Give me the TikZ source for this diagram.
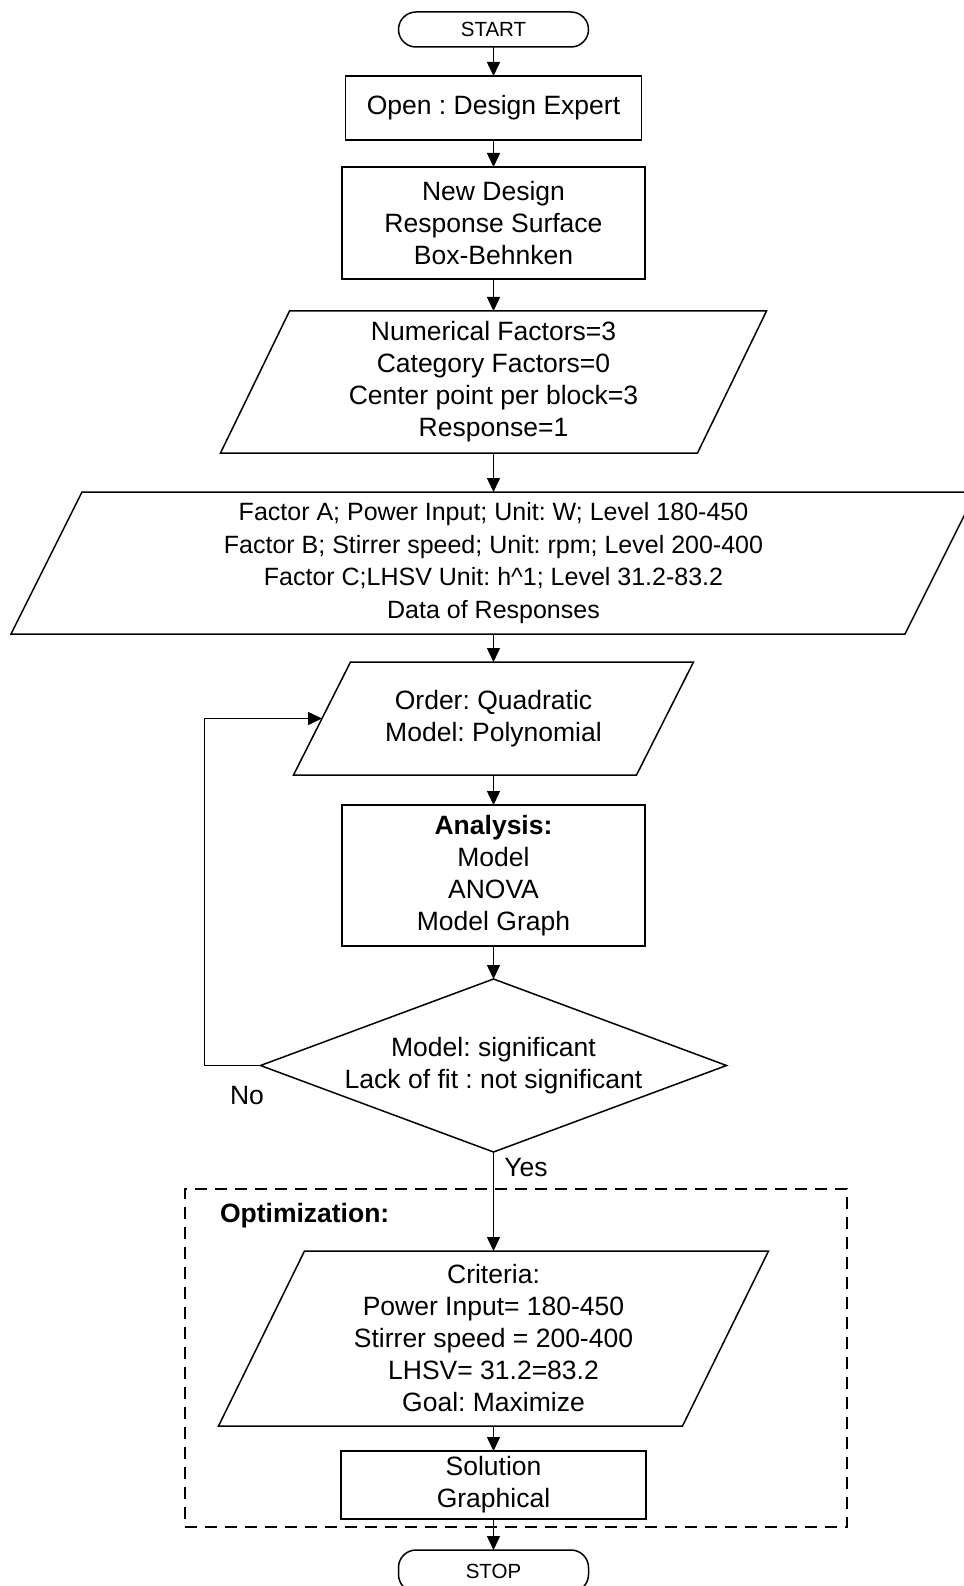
\documentclass[tikz,border=0pt]{standalone}
\usepackage{fontspec}
\setmainfont{Liberation Sans}
\usetikzlibrary{shapes.geometric,arrows.meta,calc}
\frenchspacing
\begin{document}
\begin{tikzpicture}[x=1pt,y=-1pt,
  line width=1.5pt,
  every node/.style={inner sep=0pt,outer sep=0pt,align=center,
    font=\fontsize{26.5}{32}\selectfont},
  term/.style={draw,rectangle,rounded corners=17.5pt,minimum width=190pt,
    minimum height=35pt,font=\fontsize{20.5}{24}\selectfont},
  procbox/.style={draw,rectangle},
  iobox/.style={rectangle},
  decision/.style={draw,diamond,minimum width=466pt,minimum height=173pt},
  optframe/.style={draw,rectangle,dash pattern=on 12pt off 8pt,
    minimum width=662pt,minimum height=338pt},
  flow/.style={-{Triangle[length=14pt,width=13pt]}},
]
\useasboundingbox[fill=white] (0,0) rectangle (963,1586);

% main column
\node[term] (start) at (493.5,29.5) {START};
\node[procbox,minimum width=296pt,minimum height=64pt] (open) at (493.5,108)
  {Open : Design Expert};
\node[procbox,minimum width=303pt,minimum height=112pt] (new) at (493.5,223)
  {New Design\\Response Surface\\Box-Behnken};
\node[iobox,minimum width=546pt,minimum height=142pt] (num) at (493.5,382)
  {Numerical Factors=3\\Category Factors=0\\Center point per block=3\\Response=1};
\node[iobox,minimum width=965pt,minimum height=142pt,
  font=\fontsize{25}{32.4}\selectfont] (fac) at (493.5,563)
  {Factor A; Power Input; Unit: W; Level 180-450\\
   Factor B; Stirrer speed; Unit: rpm; Level 200-400\\
   Factor C;LHSV Unit: h\^{}1; Level 31.2-83.2\\
   Data of Responses};
\node[iobox,minimum width=400pt,minimum height=113pt] (ord) at (493.5,718.5)
  {Order: Quadratic\\Model: Polynomial};
\node[procbox,minimum width=303pt,minimum height=141pt] (ana) at (493.5,875.5)
  {\textbf{Analysis:}\\Model\\ANOVA\\Model Graph};
\node[decision] (dec) at (493.5,1065.5) {};
\node (dectext) at (dec) {Model: significant\\Lack of fit : not significant};

% optimization group
\node[optframe] (opt) at (516,1358) {};
\node[anchor=west,font=\fontsize{26.5}{32}\selectfont\bfseries] (optlabel) at (220,1216)
  {Optimization:};
\node[iobox,minimum width=550pt,minimum height=175pt] (crit) at (493.5,1338.5)
  {Criteria:\\Power Input= 180-450\\Stirrer speed = 200-400\\LHSV= 31.2=83.2\\Goal: Maximize};
\node[procbox,minimum width=305pt,minimum height=68pt] (sol) at (493.5,1485)
  {Solution\\Graphical};
\node[term,minimum height=42pt] (stop) at (493.5,1571) {STOP};

% parallelogram outlines for the data boxes
\foreach \n/\s in {num/69,fac/71,ord/57,crit/86}
  \draw ([xshift=\s pt]\n.north west) -- (\n.north east)
     -- ([xshift=-\s pt]\n.south east) -- (\n.south west) -- cycle;
\coordinate (ordin) at ([xshift=28.5pt]ord.west);

% branch labels
\node (no) at (247,1096) {No};
\node (yes) at (526,1168) {Yes};

% connectors
\draw[flow] (start) -- (open);
\draw[flow] (open) -- (new);
\draw[flow] (new) -- (num);
\draw[flow] (num) -- (fac);
\draw[flow] (fac) -- (ord);
\draw[flow] (ord) -- (ana);
\draw[flow] (ana) -- (dec.north);
\draw[flow] (dec.south) -- (crit.north);
\draw[flow] (dec.west) -- ++(-56,0) |- (ordin);
\draw[flow] (crit) -- (sol);
\draw[flow] (sol) -- (stop);
\end{tikzpicture}
\end{document}
